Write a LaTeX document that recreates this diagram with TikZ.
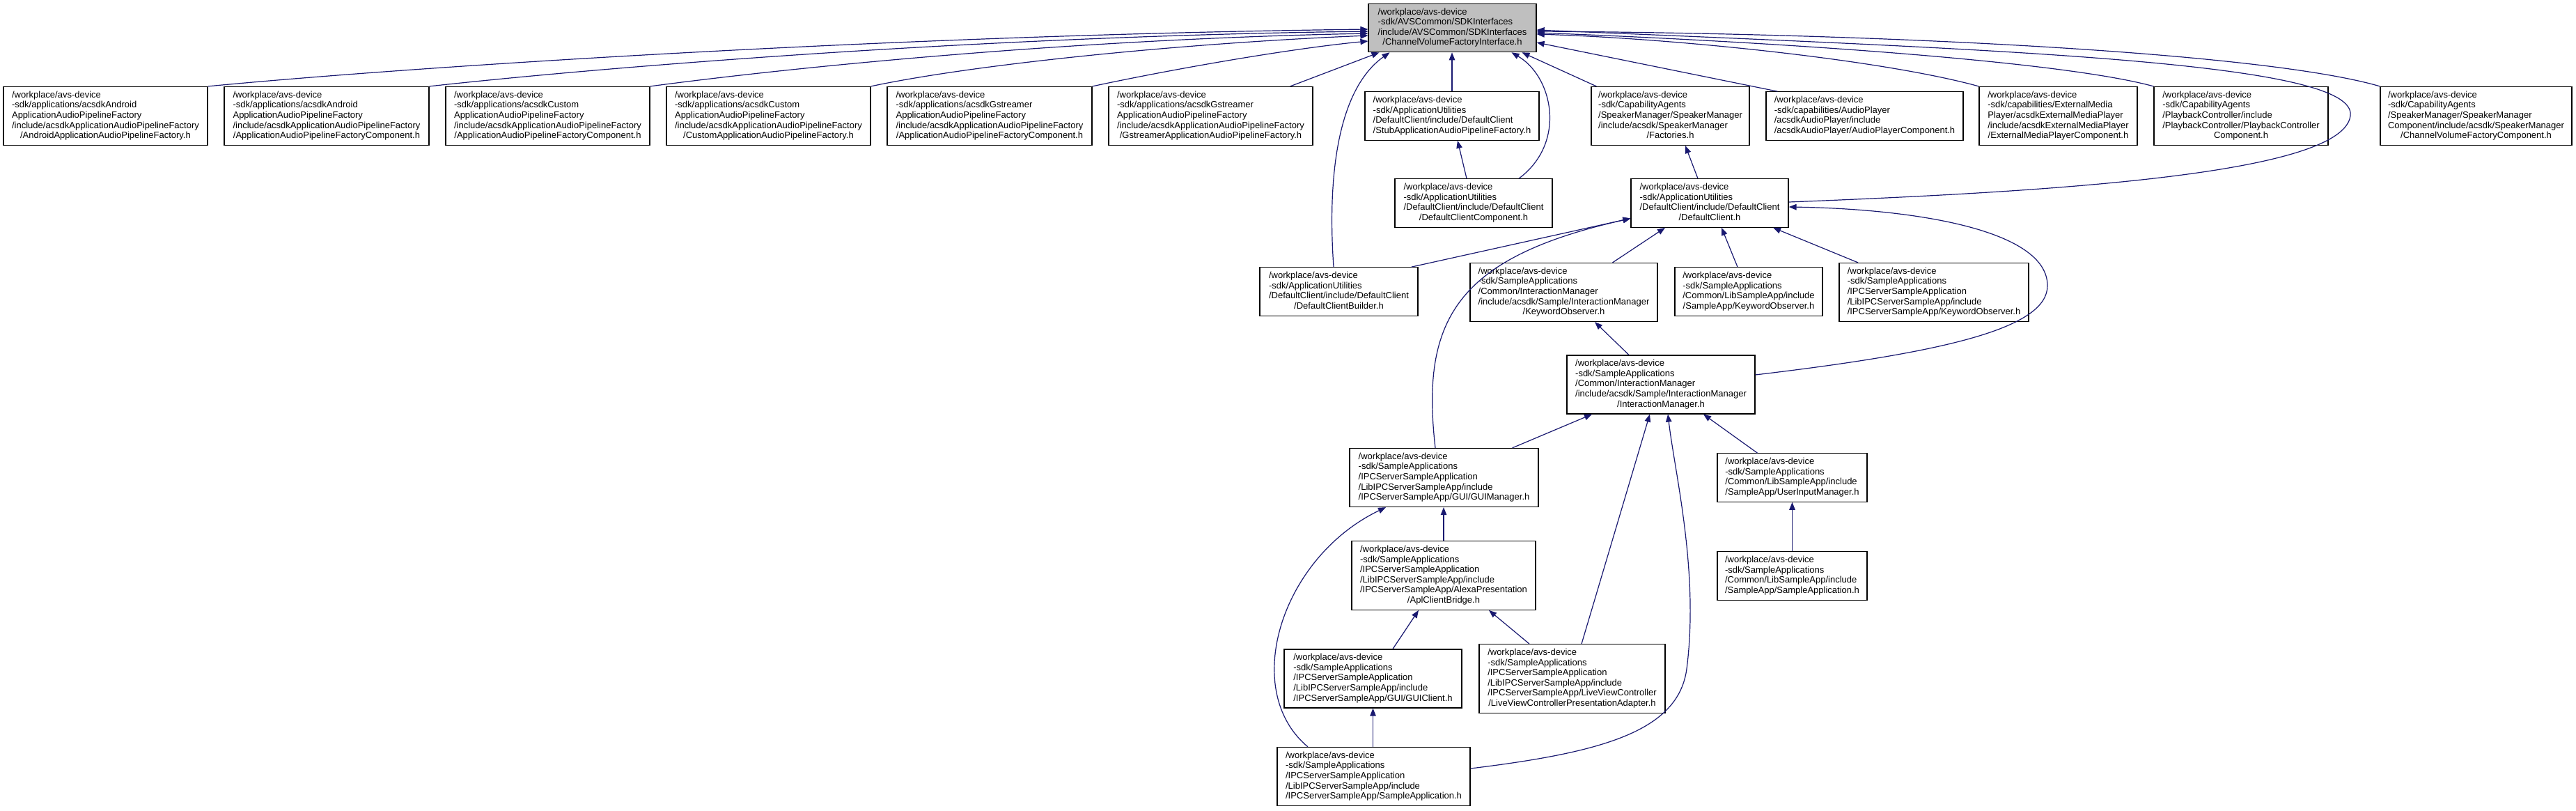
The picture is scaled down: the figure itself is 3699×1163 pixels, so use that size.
\documentclass[tikz,border=0pt]{standalone}
\usepackage{fontspec}
\setmainfont{Liberation Sans}
\usetikzlibrary{arrows.meta}
\definecolor{edgeblue}{RGB}{25,25,112}
\definecolor{rootgrey}{RGB}{191,191,191}
\newcommand{\fname}[2]{\begin{tabular}{@{}l@{}}#1\\\multicolumn{1}{@{}c@{}}{#2}\end{tabular}}
\tikzset{
  % --- Header file boxes -------------------------------------
  hfile/.style={draw, line width=1.2pt, fill=white, inner xsep=0pt,
    inner ysep=5.5pt, font=\fontsize{13}{14.6}\selectfont},
  hroot/.style={hfile, fill=rootgrey, minimum height=68pt},
  % --- Include edges -----------------------------------------
  incl/.style={-{Triangle[length=11pt, width=8.5pt]}, draw=edgeblue,
    line width=1.2pt}
}
\begin{document}
\begin{tikzpicture}[x=1pt, y=-1pt]
  \useasboundingbox (0,0) rectangle (3699,1163);

  % --- Included file -------------------------------------------
  \node[hroot, minimum width=241pt] (CV) at (2085.5,40) {\fname{/workplace/avs-device\\-sdk/AVSCommon/SDKInterfaces\\/include/AVSCommon/SDKInterfaces}{/ChannelVolumeFactoryInterface.h}};

  % --- Direct includers ----------------------------------------
  \node[hfile, minimum width=293pt] (AF) at (151.5,166.5) {\fname{/workplace/avs-device\\-sdk/applications/acsdkAndroid\\ApplicationAudioPipelineFactory\\/include/acsdkApplicationAudioPipelineFactory}{/AndroidApplicationAudioPipelineFactory.h}};
  \node[hfile, minimum width=294pt] (AC) at (469,166.5) {\fname{/workplace/avs-device\\-sdk/applications/acsdkAndroid\\ApplicationAudioPipelineFactory\\/include/acsdkApplicationAudioPipelineFactory}{/ApplicationAudioPipelineFactoryComponent.h}};
  \node[hfile, minimum width=293pt] (CC) at (786.5,166.5) {\fname{/workplace/avs-device\\-sdk/applications/acsdkCustom\\ApplicationAudioPipelineFactory\\/include/acsdkApplicationAudioPipelineFactory}{/ApplicationAudioPipelineFactoryComponent.h}};
  \node[hfile, minimum width=293pt] (CF) at (1103.5,166.5) {\fname{/workplace/avs-device\\-sdk/applications/acsdkCustom\\ApplicationAudioPipelineFactory\\/include/acsdkApplicationAudioPipelineFactory}{/CustomApplicationAudioPipelineFactory.h}};
  \node[hfile, minimum width=294pt] (GC) at (1421,166.5) {\fname{/workplace/avs-device\\-sdk/applications/acsdkGstreamer\\ApplicationAudioPipelineFactory\\/include/acsdkApplicationAudioPipelineFactory}{/ApplicationAudioPipelineFactoryComponent.h}};
  \node[hfile, minimum width=293pt] (GF) at (1738.5,166.5) {\fname{/workplace/avs-device\\-sdk/applications/acsdkGstreamer\\ApplicationAudioPipelineFactory\\/include/acsdkApplicationAudioPipelineFactory}{/GstreamerApplicationAudioPipelineFactory.h}};
  \node[hfile, minimum width=250pt] (SF) at (2085,166.5) {\fname{/workplace/avs-device\\-sdk/ApplicationUtilities\\/DefaultClient/include/DefaultClient}{/StubApplicationAudioPipelineFactory.h}};
  \node[hfile, minimum width=227pt] (FA) at (2398.5,166.5) {\fname{/workplace/avs-device\\-sdk/CapabilityAgents\\/SpeakerManager/SpeakerManager\\/include/acsdk/SpeakerManager}{/Factories.h}};
  \node[hfile, minimum width=283pt] (AP) at (2677.5,166.5) {\fname{/workplace/avs-device\\-sdk/capabilities/AudioPlayer\\/acsdkAudioPlayer/include}{/acsdkAudioPlayer/AudioPlayerComponent.h}};
  \node[hfile, minimum width=227pt] (EM) at (2955.5,166.5) {\fname{/workplace/avs-device\\-sdk/capabilities/ExternalMedia\\Player/acsdkExternalMediaPlayer\\/include/acsdkExternalMediaPlayer}{/ExternalMediaPlayerComponent.h}};
  \node[hfile, minimum width=250pt] (PB) at (3218,166.5) {\fname{/workplace/avs-device\\-sdk/CapabilityAgents\\/PlaybackController/include\\/PlaybackController/PlaybackController}{Component.h}};
  \node[hfile, minimum width=275pt] (SM) at (3555.5,166.5) {\fname{/workplace/avs-device\\-sdk/CapabilityAgents\\/SpeakerManager/SpeakerManager\\Component/include/acsdk/SpeakerManager}{/ChannelVolumeFactoryComponent.h}};

  % --- Default client --------------------------------------------
  \node[hfile, minimum width=226pt] (DCC) at (2116,291.5) {\fname{/workplace/avs-device\\-sdk/ApplicationUtilities\\/DefaultClient/include/DefaultClient}{/DefaultClientComponent.h}};
  \node[hfile, minimum width=226pt] (DC) at (2455,291.5) {\fname{/workplace/avs-device\\-sdk/ApplicationUtilities\\/DefaultClient/include/DefaultClient}{/DefaultClient.h}};

  \node[hfile, minimum width=227pt] (DCB) at (1922.5,418.5) {\fname{/workplace/avs-device\\-sdk/ApplicationUtilities\\/DefaultClient/include/DefaultClient}{/DefaultClientBuilder.h}};
  \node[hfile, minimum width=269pt] (KW) at (2245.5,419.5) {\fname{/workplace/avs-device\\-sdk/SampleApplications\\/Common/InteractionManager\\/include/acsdk/Sample/InteractionManager}{/KeywordObserver.h}};
  \node[hfile, minimum width=212pt] (SK) at (2511,418.5) {\fname{/workplace/avs-device\\-sdk/SampleApplications\\/Common/LibSampleApp/include}{/SampleApp/KeywordObserver.h}};
  \node[hfile, minimum width=272pt] (IK) at (2777,419.5) {\fname{/workplace/avs-device\\-sdk/SampleApplications\\/IPCServerSampleApplication\\/LibIPCServerSampleApp/include}{/IPCServerSampleApp/KeywordObserver.h}};

  % --- Sample applications ---------------------------------------
  \node[hfile, minimum width=270pt] (IM) at (2385,552) {\fname{/workplace/avs-device\\-sdk/SampleApplications\\/Common/InteractionManager\\/include/acsdk/Sample/InteractionManager}{/InteractionManager.h}};
  \node[hfile, minimum width=271pt] (GM) at (2073.5,685.5) {\fname{/workplace/avs-device\\-sdk/SampleApplications\\/IPCServerSampleApplication\\/LibIPCServerSampleApp/include}{/IPCServerSampleApp/GUI/GUIManager.h}};
  \node[hfile, minimum width=215pt] (UI) at (2573.5,685.5) {\fname{/workplace/avs-device\\-sdk/SampleApplications\\/Common/LibSampleApp/include}{/SampleApp/UserInputManager.h}};
  \node[hfile, minimum width=264pt] (APL) at (2073,826) {\fname{/workplace/avs-device\\-sdk/SampleApplications\\/IPCServerSampleApplication\\/LibIPCServerSampleApp/include\\/IPCServerSampleApp/AlexaPresentation}{/AplClientBridge.h}};
  \node[hfile, minimum width=215pt] (SA) at (2573.5,826.5) {\fname{/workplace/avs-device\\-sdk/SampleApplications\\/Common/LibSampleApp/include}{/SampleApp/SampleApplication.h}};
  \node[hfile, minimum width=255pt] (GCL) at (1971.5,974) {\fname{/workplace/avs-device\\-sdk/SampleApplications\\/IPCServerSampleApplication\\/LibIPCServerSampleApp/include}{/IPCServerSampleApp/GUI/GUIClient.h}};
  \node[hfile, minimum width=267pt] (LV) at (2257.5,974) {\fname{/workplace/avs-device\\-sdk/SampleApplications\\/IPCServerSampleApplication\\/LibIPCServerSampleApp/include\\/IPCServerSampleApp/LiveViewController}{/LiveViewControllerPresentationAdapter.h}};
  \node[hfile, minimum width=277pt] (ISA) at (1972.5,1114.5) {\fname{/workplace/avs-device\\-sdk/SampleApplications\\/IPCServerSampleApplication\\/LibIPCServerSampleApp/include}{/IPCServerSampleApp/SampleApplication.h}};

  % --- Edges into the included file ------------------------------
  \draw[incl] (AF.north east) .. controls (600,95) and (1300,50) .. ([yshift=-2pt]CV.west);
  \draw[incl] (AC.north east) .. controls (850,98) and (1400,52) .. ([yshift=-5pt]CV.west);
  \draw[incl] (CC.north east) .. controls (1150,95) and (1550,56) .. ([yshift=-8pt]CV.west);
  \draw[incl] (CF.north east) .. controls (1400,92) and (1700,62) .. ([yshift=-11pt]CV.west);
  \draw[incl] (GC.north east) .. controls (1680,100) and (1850,70) .. ([yshift=-19pt]CV.west);
  \draw[incl] ([xshift=-33pt]GF.north east) -- ([xshift=-105pt]CV.south);
  \draw[incl] ([xshift=-7.5pt]DCB.north) .. controls (1905,240) and (1925,125) .. ([xshift=-90pt]CV.south);
  \draw[incl] (SF.north) -- (SF.north |- CV.south);
  \draw[incl] ([xshift=65pt]DCC.north) .. controls (2250,205) and (2230,110) .. ([xshift=85pt]CV.south);
  \draw[incl] ([xshift=8pt]FA.north west) -- ([xshift=100pt]CV.south);
  \draw[incl] ([xshift=17pt]AP.north west) -- ([yshift=-21pt]CV.east);
  \draw[incl] (EM.north west) .. controls (2700,85) and (2400,55) .. ([yshift=-9pt]CV.east);
  \draw[incl] (PB.north west) .. controls (2950,85) and (2500,58) .. ([yshift=-7pt]CV.east);
  \draw[incl] (SM.north west) .. controls (3250,75) and (2700,48) .. ([yshift=-5pt]CV.east);
  \draw[incl] ([yshift=1.5pt]DC.east) .. controls (2950,275) and (3365,250) .. (3375,166)
    .. controls (3385,90) and (2900,72) .. ([yshift=-3pt]CV.east);

  % --- Default client edges ----------------------------------------
  \draw[incl] ([xshift=-10pt]DCC.north) -- ([xshift=8pt]SF.south);
  \draw[incl] ([xshift=-17pt]DC.north) -- ([xshift=21.5pt]FA.south);
  \draw[incl] ([xshift=-10pt]DCB.north east) -- ([yshift=-22pt]DC.west);
  \draw[incl] ([xshift=-12.5pt]GM.north) .. controls (2040,460) and (2090,370) .. ([yshift=-22pt]DC.west);
  \draw[incl] ([xshift=70pt]KW.north) -- ([xshift=-64pt]DC.south);
  \draw[incl] ([xshift=-16pt]SK.north) -- ([xshift=17pt]DC.south);
  \draw[incl] ([xshift=-109pt]IK.north) -- ([xshift=91pt]DC.south);
  \draw[incl] ([yshift=14pt]IM.east) .. controls (2800,505) and (2940,470) .. (2940,410)
    .. controls (2940,330) and (2750,300) .. ([yshift=-5.5pt]DC.east);

  % --- Sample application edges ------------------------------------
  \draw[incl] ([xshift=-46pt]IM.north) -- ([xshift=44.5pt]KW.south);
  \draw[incl] ([xshift=98pt]GM.north) -- ([xshift=-99pt]IM.south);
  \draw[incl] ([xshift=-50pt]UI.north) -- ([xshift=61pt]IM.south);
  \draw[incl] ([xshift=13.5pt]LV.north) -- ([xshift=-16pt]IM.south);
  \draw[incl] ([yshift=11.5pt]ISA.east) .. controls (2300,1080) and (2410,1050) .. (2422,960)
    .. controls (2440,820) and (2405,680) .. ([xshift=10pt]IM.south);
  \draw[incl] (APL.north) -- (APL.north |- GM.south);
  \draw[incl] ([xshift=-94.5pt]ISA.north) .. controls (1780,990) and (1840,800) .. ([xshift=-83.5pt]GM.south);
  \draw[incl] ([xshift=28.5pt]GCL.north) -- ([xshift=-36pt]APL.south);
  \draw[incl] ([xshift=-61.5pt]LV.north) -- ([xshift=65pt]APL.south);
  \draw[incl] (GCL.south |- ISA.north) -- (GCL.south);
  \draw[incl] (SA.north) -- (UI.south);

\end{tikzpicture}
\end{document}
